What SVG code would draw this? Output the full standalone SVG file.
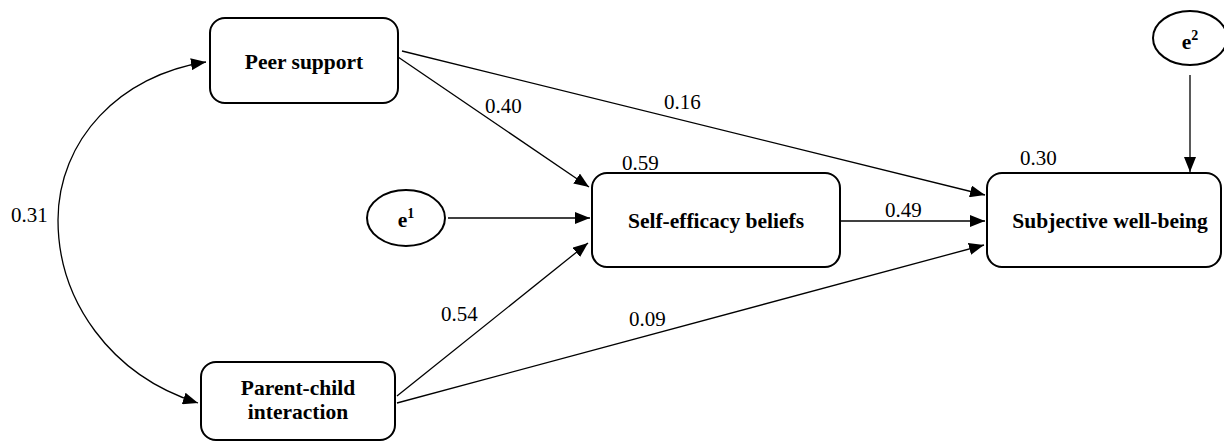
<svg xmlns="http://www.w3.org/2000/svg" width="1224" height="441" viewBox="0 0 1224 441">
<style>
.box{fill:#fff;stroke:#000;stroke-width:2}
.ell{fill:#fff;stroke:#000;stroke-width:2}
.lbl{font-family:"Times New Roman","Liberation Serif",Tinos,"DejaVu Serif",serif;font-weight:bold;font-size:21.5px;text-anchor:middle;fill:#000}
.num{font-family:"Times New Roman","Liberation Serif",Tinos,"DejaVu Serif",serif;font-size:21px;fill:#000}
.con{fill:none;stroke:#000;stroke-width:1.3;marker-end:url(#arr)}
</style>
<defs>
<marker id="arr" markerUnits="userSpaceOnUse" markerWidth="16" markerHeight="12" refX="15" refY="6" orient="auto">
<path d="M0,0 L15,6 L0,12 Z" fill="#000"/>
</marker>
</defs>
<rect width="1224" height="441" fill="#fff"/>
<g id="connectors">
<path class="con" d="M398,57 L589,187"/>
<path class="con" d="M402,51 L985,195"/>
<path class="con" d="M448,218 L590,218"/>
<path class="con" d="M840,221 L985,221"/>
<path class="con" d="M397,396 L588,243"/>
<path class="con" d="M397,403 L984,245"/>
<path class="con" d="M1190,75 L1190,172"/>
<path class="con" d="M58,220 C58,140 120,75 206,62"/>
<path class="con" d="M58,220 C58,300 110,375 198,403"/>
</g>
<g id="labels">
<text class="num" x="485" y="113">0.40</text>
<text class="num" x="664" y="109">0.16</text>
<text class="num" x="622" y="170">0.59</text>
<text class="num" x="1020" y="165">0.30</text>
<text class="num" x="885" y="217">0.49</text>
<text class="num" x="441" y="321">0.54</text>
<text class="num" x="629" y="326">0.09</text>
<text class="num" x="11" y="222">0.31</text>
</g>
<g id="peer">
<rect class="box" x="210" y="18" width="188" height="85" rx="15"/>
<text class="lbl" x="304" y="69">Peer support</text>
</g>
<g id="parent">
<rect class="box" x="201" y="362" width="194" height="78" rx="15"/>
<text class="lbl" x="298" y="395">Parent-child</text>
<text class="lbl" x="298" y="419">interaction</text>
</g>
<g id="selfefficacy">
<rect class="box" x="592" y="173" width="248" height="94" rx="15"/>
<text class="lbl" x="716" y="228">Self-efficacy beliefs</text>
</g>
<g id="swb">
<rect class="box" x="987" y="173" width="234" height="94" rx="15"/>
<text class="lbl" x="1110" y="228">Subjective well-being</text>
</g>
<g id="e1">
<ellipse class="ell" cx="406" cy="218" rx="39" ry="28"/>
<text class="lbl" x="406" y="227">e<tspan font-size="14" dy="-9">1</tspan></text>
</g>
<g id="e2">
<ellipse class="ell" cx="1190" cy="38" rx="37" ry="27"/>
<text class="lbl" x="1190" y="49">e<tspan font-size="14" dy="-9">2</tspan></text>
</g>
</svg>
